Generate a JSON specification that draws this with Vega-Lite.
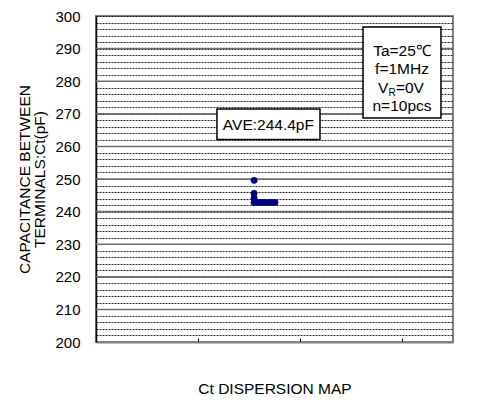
{
  "$schema": "https://vega.github.io/schema/vega-lite/v6.json",
  "width": 357,
  "height": 326,
  "autosize": "none",
  "padding": {"left": 96, "top": 16, "right": 24, "bottom": 61},
  "background": "white",
  "config": {
    "view": {"stroke": "#808080", "strokeWidth": 2},
    "font": "Liberation Sans",
    "text": {"font": "Liberation Sans", "color": "black"}
  },
  "encoding": {
    "x": {
      "field": "x", "type": "quantitative",
      "scale": {"domain": [0, 3.5], "nice": false, "zero": false},
      "axis": {
        "values": [1, 2, 3], "labels": false, "tickSize": -4, "tickColor": "black", "tickWidth": 1,
        "domainColor": "#808080", "domainWidth": 2, "grid": false,
        "title": "Ct DISPERSION MAP", "titleFont": "Liberation Sans", "titleFontSize": 15.5,
        "titleFontWeight": "normal", "titleColor": "black", "titlePadding": 39
      }
    },
    "y": {
      "field": "y", "type": "quantitative",
      "scale": {"domain": [200, 300], "nice": false, "zero": false},
      "axis": {
        "values": [200,202,204,206,208,210,212,214,216,218,220,222,224,226,228,230,232,234,236,238,240,242,244,246,248,250,252,254,256,258,260,262,264,266,268,270,272,274,276,278,280,282,284,286,288,290,292,294,296,298,300],
        "labelExpr": "datum.value % 10 == 0 ? datum.label : ''",
        "grid": true, "gridDash": [2, 1], "gridColor": "#2a2a2a", "gridWidth": 1,
        "ticks": false, "labelPadding": 16, "labelFontSize": 15, "labelColor": "black", "labelFont": "Liberation Sans",
        "domainColor": "black", "domainWidth": 1.5,
        "title": ["CAPACITANCE BETWEEN", "TERMINALS:Ct(pF)"],
        "titleFont": "Liberation Sans", "titleFontSize": 15.5, "titleFontWeight": "normal", "titleColor": "black",
        "titleLineHeight": 15, "titlePadding": 7
      }
    }
  },
  "layer": [
    {
      "data": {"values": [
        {"y": 210, "x": 0, "x2": 3.5}, {"y": 220, "x": 0, "x2": 3.5}, {"y": 230, "x": 0, "x2": 3.5},
        {"y": 240, "x": 0, "x2": 3.5}, {"y": 250, "x": 0, "x2": 3.5}, {"y": 260, "x": 0, "x2": 3.5},
        {"y": 270, "x": 0, "x2": 3.5}, {"y": 280, "x": 0, "x2": 3.5}, {"y": 290, "x": 0, "x2": 3.5}
      ]},
      "mark": {"type": "rule", "color": "#6e6e6e", "strokeWidth": 1.5},
      "encoding": {"x2": {"field": "x2"}}
    },
    {
      "data": {"values": [
        {"x": 1.55, "y": 249.6}, {"x": 1.55, "y": 245.6}, {"x": 1.55, "y": 244.2}, {"x": 1.55, "y": 242.8},
        {"x": 1.585, "y": 242.8}, {"x": 1.62, "y": 242.8}, {"x": 1.655, "y": 242.8}, {"x": 1.69, "y": 242.8},
        {"x": 1.72, "y": 242.8}, {"x": 1.755, "y": 242.8}
      ]},
      "mark": {"type": "circle", "color": "#000080", "size": 46, "opacity": 1},
      "encoding": {}
    },
    {
      "data": {"values": [
        {"box": "AVE", "x": 1.186, "x2": 2.196, "y": 271.5, "y2": 262.1},
        {"box": "conditions", "x": 2.618, "x2": 3.382, "y": 296.6, "y2": 268.7}
      ]},
      "mark": {"type": "rect", "fill": "white", "stroke": "black", "strokeWidth": 1.5},
      "encoding": {"x2": {"field": "x2"}, "y2": {"field": "y2"}}
    },
    {
      "data": {"values": [
        {"label": "AVE:244.4pF", "x": 1.69, "y": 266.6},
        {"label": "Ta=25℃", "x": 3.0, "y": 289.3},
        {"label": "f=1MHz", "x": 3.0, "y": 283.6},
        {"label": "n=10pcs", "x": 3.0, "y": 272.4}
      ]},
      "mark": {"type": "text", "fontSize": 15.5, "align": "center", "baseline": "middle"},
      "encoding": {"text": {"field": "label"}}
    },
    {
      "data": {"values": [{"label": "V", "x": 2.867, "y": 277.9}]},
      "mark": {"type": "text", "fontSize": 15.5, "align": "right", "baseline": "middle"},
      "encoding": {"text": {"field": "label"}}
    },
    {
      "data": {"values": [{"label": "R", "x": 2.867, "y": 276.4}]},
      "mark": {"type": "text", "fontSize": 10, "align": "left", "baseline": "middle"},
      "encoding": {"text": {"field": "label"}}
    },
    {
      "data": {"values": [{"label": "=0V", "x": 2.94, "y": 277.9}]},
      "mark": {"type": "text", "fontSize": 15.5, "align": "left", "baseline": "middle"},
      "encoding": {"text": {"field": "label"}}
    }
  ]
}
